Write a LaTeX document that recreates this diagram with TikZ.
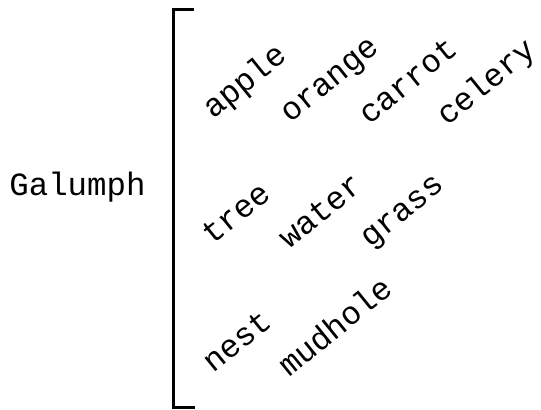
\documentclass[tikz,border=0pt]{standalone}
\usepackage{fontspec}
\setmonofont{Liberation Mono}
\begin{document}
\begin{tikzpicture}[x=0.5pt, y=-0.5pt, font=\ttfamily\fontsize{16.2}{18}\selectfont,
      word/.style={anchor=base west, rotate=39, inner sep=0pt},
      head/.style={anchor=base west, inner sep=0pt},
      brace/.style={line width=1.5pt}]
    \useasboundingbox (0,0) rectangle (541,410);
    \node[head] (galumph) at (9,196) {Galumph};
    \draw[brace] (194,10) -- (173,10) -- (173,408) -- (195,408);
    % first row
    \node[word] (apple) at (213,120) {apple};
    \node[word] (orange) at (290,124) {orange};
    \node[word] (carrot) at (369,126) {carrot};
    \node[word] (celery) at (447,127) {celery};
    % second row
    \node[word] (tree) at (212,246) {tree};
    \node[word] (water) at (289,250) {water};
    \node[word] (grass) at (370,249) {grass};
    % third row
    \node[word] (nest) at (213,374) {nest};
    \node[word] (mudhole) at (289,378) {mudhole};
\end{tikzpicture}
\end{document}
